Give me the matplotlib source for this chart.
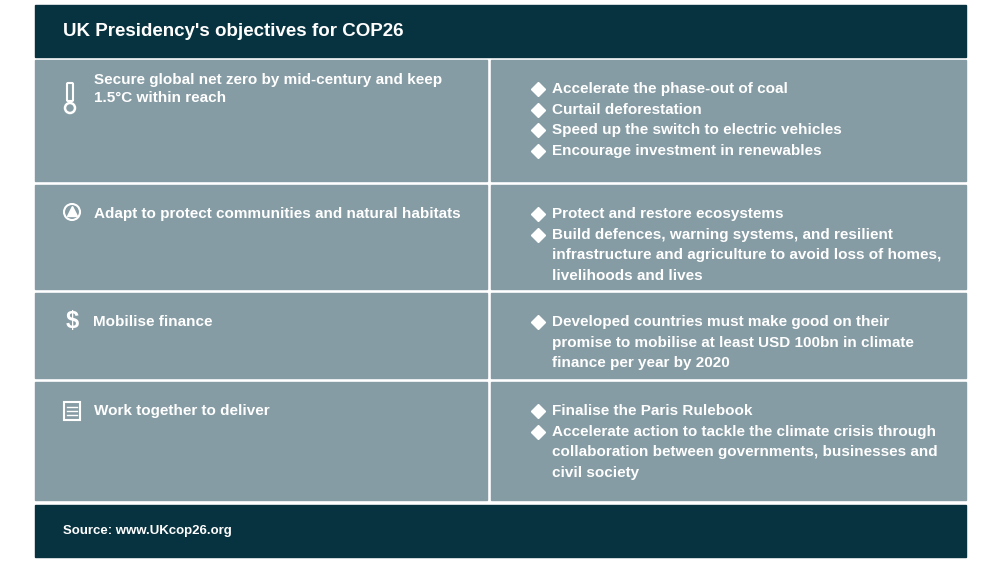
import matplotlib.pyplot as plt
from matplotlib.patches import Rectangle, Circle, FancyBboxPatch

title = "UK Presidency's objectives for COP26"
source = "Source: www.UKcop26.org"
goals = ["Secure global net zero by mid-century and keep\n1.5°C within reach",
         "Adapt to protect communities and natural habitats",
         "Mobilise finance",
         "Work together to deliver"]
actions = [
    ["Accelerate the phase-out of coal", "Curtail deforestation",
     "Speed up the switch to electric vehicles", "Encourage investment in renewables"],
    ["Protect and restore ecosystems",
     "Build defences, warning systems, and resilient\ninfrastructure and agriculture to avoid loss of homes,\nlivelihoods and lives"],
    ["Developed countries must make good on their\npromise to mobilise at least USD 100bn in climate\nfinance per year by 2020"],
    ["Finalise the Paris Rulebook",
     "Accelerate action to tackle the climate crisis through\ncollaboration between governments, businesses and\ncivil society"],
]
row_tops = [60, 185, 293, 382]
row_bots = [181, 289, 378, 500]

dark = '#07323f'
cell = '#869ca4'
plt.rcParams['font.family'] = 'Liberation Sans'

fig = plt.figure(figsize=(10, 5.63), dpi=100)
ax = fig.add_axes([0, 0, 1, 1])
ax.set_xlim(0, 1000)
ax.set_ylim(563, 0)
ax.axis('off')

ax.add_patch(Rectangle((35, 5), 931, 52, color=dark))
ax.text(63, 31, title, color='white', fontsize=13.5, weight='bold', va='center')
ax.add_patch(Rectangle((35, 505), 931, 52, color=dark))
ax.text(63, 531, source, color='white', fontsize=9.5, weight='bold', va='center')

lh = 20.7
for i in range(4):
    t, b = row_tops[i], row_bots[i]
    ax.add_patch(Rectangle((35, t), 452, b - t, color=cell))
    ax.add_patch(Rectangle((491, t), 475, b - t, color=cell))
    ax.text(94 if i != 2 else 93, t + 29, goals[i], color='white', fontsize=11, weight='bold',
            va='center', linespacing=1.38)
    y = t + 29
    for a in actions[i]:
        ax.plot(538, y, marker='D', ms=7, color='white')
        ax.text(552, y, a.split('\n')[0], color='white', fontsize=11, weight='bold', va='center')
        for extra in a.split('\n')[1:]:
            y += lh
            ax.text(552, y, extra, color='white', fontsize=11, weight='bold', va='center')
        y += lh

# icons
ax.add_patch(FancyBboxPatch((68, 84), 4, 16, boxstyle='round,pad=1', fc='none', ec='white', lw=1.5))
ax.add_patch(Circle((70, 108), 5, fc='none', ec='white', lw=1.8))
ax.add_patch(Circle((72, 212), 8, fc='none', ec='white', lw=1.5))
ax.plot(72, 211, marker='^', ms=7, color='white')
ax.text(72, 322, '$', color='white', fontsize=17, weight='bold', ha='center', va='center')
ax.add_patch(Rectangle((64, 402), 16, 18, fc='none', ec='white', lw=1.5))
for yy in (407, 411, 415):
    ax.plot([67, 77], [yy, yy], color='white', lw=1)

fig.savefig('out.png', dpi=100)
